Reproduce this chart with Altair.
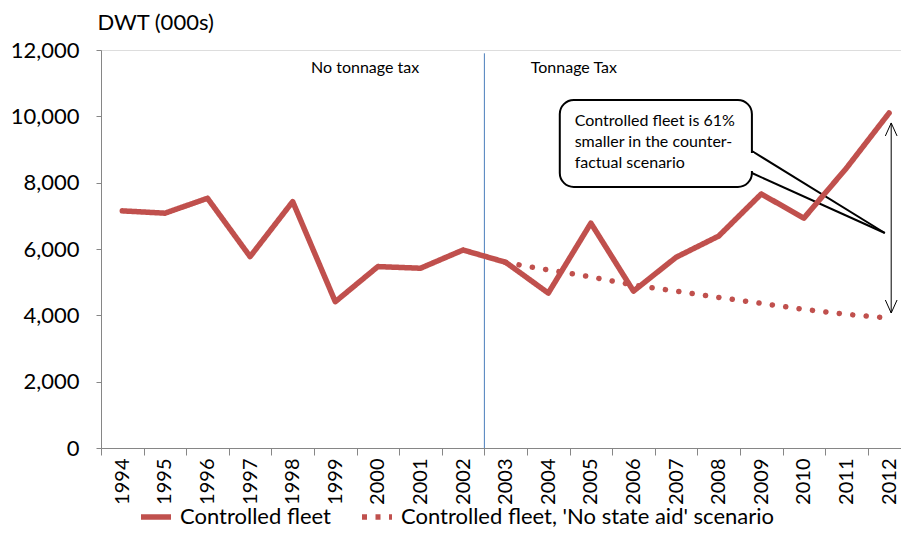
import altair as alt
import pandas as pd

# ---------------- data ----------------
years = list(range(1994, 2013))
controlled = [7150, 7080, 7530, 5770, 7430, 4410, 5470, 5420, 5970, 5600,
              4670, 6780, 4730, 5750, 6390, 7660, 6930, 8440, 10100]
scenario_years = list(range(2003, 2013))
scenario = [5590, 5370, 5160, 4910, 4730, 4540, 4360, 4180, 4030, 3920]

s1 = "Controlled fleet"
s2 = "Controlled fleet, 'No state aid' scenario"

tick_years = [1993.5 + i for i in range(19)]
y_ticks = [0, 2000, 4000, 6000, 8000, 10000, 12000]

# annotations (data coordinates)
boundary_x = [2002.5]
boundary_y = [0, 11900]
region_labels = ["No tonnage tax", "Tonnage Tax"]
region_x = [1999.7, 2004.6]
region_y = [11300, 11300]

callout_text = "Controlled fleet is 61%\nsmaller in the counter-\nfactual scenario"
callout_box = dict(x=2004.27, x2=2008.78, y=10492, y2=7869)
callout_text_pos = dict(x=2004.62, y=9708)
tail_from_x = [2008.78, 2008.78]
tail_from_y = [8955, 8291]
tail_to = (2011.9, 6482)
gap_y = [8894, 8352]
arrow_x = 2012.05
arrow_top = 9800
arrow_bottom = 4070

RED = "#C0504D"
FONT = "Lato"
XDOM = [1993.5, 2012.28]
STEP_PX = 42.6

# ---------------- tables ----------------
solid_df = pd.DataFrame({"x": years, "y": controlled, "series": s1})
dotted_df = pd.DataFrame({"x": scenario_years, "y": scenario, "series": s2})


def X(field="x"):
    return alt.X(
        f"{field}:Q",
        scale=alt.Scale(domain=XDOM, nice=False, zero=False),
        axis=alt.Axis(
            values=tick_years,
            labelExpr="format(datum.value + 0.5, 'd')",
            labelOffset=STEP_PX / 2,
            labelAngle=-90,
            labelAlign="right",
            labelBaseline="middle",
            labelFontSize=20,
            labelFont=FONT,
            labelColor="black",
            labelPadding=3,
            labelBound=False,
            labelOverlap=False,
            labelFlush=False,
            tickSize=7,
            tickColor="#868686",
            domainColor="#868686",
            grid=False,
            title=None,
        ),
    )


def Y(field="y"):
    return alt.Y(
        f"{field}:Q",
        scale=alt.Scale(domain=[0, 12000], nice=False),
        axis=alt.Axis(
            values=y_ticks,
            format=",d",
            labelFontSize=22,
            labelFont=FONT,
            labelColor="black",
            labelPadding=17,
            tickSize=5,
            tickColor="#868686",
            domainColor="#868686",
            grid=False,
            title="DWT (000s)",
            titleAngle=0,
            titleAlign="left",
            titleBaseline="alphabetic",
            titleX=-4,
            titleY=-21,
            titleFontSize=22,
            titleFont=FONT,
            titleFontWeight="normal",
            titleColor="black",
        ),
    )


# vertical boundary line
boundary_df = pd.DataFrame({"x": boundary_x, "y": [boundary_y[0]], "y2": [boundary_y[1]]})
boundary = alt.Chart(boundary_df).mark_rule(color="#4A7EBB", strokeWidth=1).encode(
    x=X(), y=Y(), y2="y2:Q"
)

# region labels
region_df = pd.DataFrame({"x": region_x, "y": region_y, "label": region_labels})
regions = alt.Chart(region_df).mark_text(
    font=FONT, fontSize=16, color="black", align="center", baseline="alphabetic"
).encode(x=X(), y=Y(), text="label:N")

# callout tail
tail_df = pd.DataFrame({
    "x": tail_from_x, "y": tail_from_y,
    "x2": [tail_to[0]] * 2, "y2": [tail_to[1]] * 2,
})
tail = alt.Chart(tail_df).mark_rule(color="black", strokeWidth=2).encode(
    x=X(), y=Y(), x2="x2:Q", y2="y2:Q"
)

# callout box
box_df = pd.DataFrame([callout_box])
box = alt.Chart(box_df).mark_rect(
    fill="white", stroke="black", strokeWidth=2, cornerRadius=14
).encode(x=X(), y=Y(), x2="x2:Q", y2="y2:Q")

gap_df = pd.DataFrame({"x": [callout_box["x2"]], "y": [gap_y[0]], "y2": [gap_y[1]]})
gap = alt.Chart(gap_df).mark_rule(color="white", strokeWidth=4).encode(
    x=X(), y=Y(), y2="y2:Q"
)

ctext_df = pd.DataFrame({"x": [callout_text_pos["x"]], "y": [callout_text_pos["y"]],
                         "label": [callout_text]})
ctext = alt.Chart(ctext_df).mark_text(
    font=FONT, fontSize=16, color="black", align="left", baseline="alphabetic",
    lineBreak="\n", lineHeight=21,
).encode(x=X(), y=Y(), text="label:N")

# data lines
color_scale = alt.Scale(domain=[s1, s2], range=[RED, RED])
legend = alt.Legend(
    orient="none", legendX=37, legendY=449, direction="horizontal", title=None,
    labelFontSize=22, labelFont=FONT, labelColor="black", labelLimit=600,
    symbolType="stroke", symbolSize=900, symbolStrokeWidth=5.5,
    columnPadding=20, labelOffset=6,
)
solid = alt.Chart(solid_df).mark_line(
    strokeWidth=5.5, strokeCap="round", strokeJoin="round"
).encode(
    x=X(), y=Y(),
    color=alt.Color("series:N", scale=color_scale, legend=legend),
    strokeDash=alt.StrokeDash("series:N",
                              scale=alt.Scale(domain=[s1, s2], range=[[1, 0], [5, 8.5]]),
                              legend=legend),
)
dotted = alt.Chart(dotted_df).mark_line(
    strokeWidth=5.5, strokeCap="round", strokeJoin="round", strokeDash=[0.1, 13.4]
).encode(
    x=X(), y=Y(),
    color=alt.Color("series:N", scale=color_scale, legend=None),
)

# double-headed arrow
arrow_df = pd.DataFrame({"x": [arrow_x], "y": [arrow_top], "y2": [arrow_bottom]})
arrow = alt.Chart(arrow_df).mark_rule(color="black", strokeWidth=1).encode(
    x=X(), y=Y(), y2="y2:Q"
)
head_top = alt.Chart(pd.DataFrame({"x": [arrow_x], "y": [arrow_top]})).mark_point(
    shape="M-0.45,1L0,0L0.45,1", filled=False, color="black", strokeWidth=1,
    size=676, opacity=1
).encode(x=X(), y=Y())
head_bottom = alt.Chart(pd.DataFrame({"x": [arrow_x], "y": [arrow_bottom]})).mark_point(
    shape="M-0.45,-1L0,0L0.45,-1", filled=False, color="black", strokeWidth=1,
    size=676, opacity=1
).encode(x=X(), y=Y())

chart = alt.layer(
    boundary, regions, tail, box, gap, ctext, solid, dotted, arrow, head_top, head_bottom
).properties(
    width=800, height=398,
    autosize=alt.AutoSizeParams(type="none"),
    padding={"left": 93, "top": 42, "right": 0, "bottom": 84},
).configure_view(stroke=None).configure(font=FONT)

chart.save("out.html", embed_options={"renderer": "svg", "actions": False})
